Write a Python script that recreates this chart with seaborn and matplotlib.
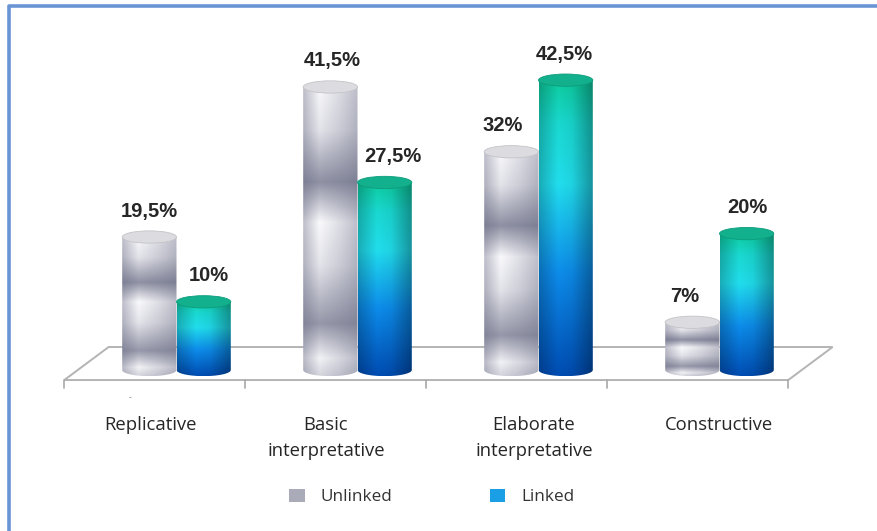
import matplotlib
matplotlib.use('Agg')
import matplotlib.pyplot as plt
import numpy as np
import pandas as pd
import seaborn as sns
from matplotlib.patches import Ellipse, PathPatch, Patch, Polygon
from matplotlib.path import Path
from matplotlib.lines import Line2D

# 数据
categories = ["Replicative", "Basic\ninterpretative", "Elaborate\ninterpretative", "Constructive"]
groups = ["Unlinked", "Linked"]
unlinked = [19.5, 41.5, 32, 7]
linked = [10, 27.5, 42.5, 20]

df = pd.DataFrame({
    'category': categories * 2,
    'value': unlinked + linked,
    'group': [groups[0]] * 4 + [groups[1]] * 4,
})

sns.set_style('white')
plt.rcParams['font.family'] = ['Open Sans', 'DejaVu Sans']

W, H = 877, 531
ppu = 6.82          # 每个百分点的像素
y_lo, y_hi = -1.5, 50
fig = plt.figure(figsize=(W / 100, H / 100), dpi=100)
# 坐标轴:基线 y=370px, 每组间距 181px
bottom_px = 370 + (-y_lo) * ppu
ax = fig.add_axes([86 / W, (H - bottom_px) / H, 724 / W, (y_hi - y_lo) * ppu / H])

sns.barplot(data=df, x='category', y='value', hue='group', hue_order=groups,
            order=categories, width=0.6, dodge=True, legend=False, ax=ax)
ax.axis('off')

ell_h = 1.8  # 圆柱顶面椭圆高度(数据单位)


def gray_img(n=240, m=80):
    s = np.linspace(1, 0, n)[:, None]
    u = np.linspace(0, 1, m)[None, :]
    L = np.interp(s, [0, 0.06, 0.18, 0.38, 0.53, 0.67, 0.85, 1.0],
                  [0.75, 0.95, 0.35, 0.85, 1.0, 0.3, 0.85, 1.0])
    Hh = np.interp(u, [0, 0.3, 0.65, 1], [0.6, 1.0, 0.82, 0.6])
    t = np.clip(L * Hh, 0, 1)[..., None]
    dark = np.array([0.38, 0.39, 0.49])
    light = np.array([0.98, 0.98, 0.99])
    return dark + (light - dark) * t


def blue_img(n=240, m=80):
    s = np.linspace(1, 0, n)
    u = np.linspace(0, 1, m)[None, :, None]
    stops = [0, 0.35, 0.65, 0.85, 1.0]
    cols = np.array([[0.00, 0.30, 0.70], [0.05, 0.55, 0.92], [0.13, 0.87, 0.93],
                     [0.10, 0.85, 0.82], [0.05, 0.80, 0.62]])
    base = np.stack([np.interp(s, stops, cols[:, k]) for k in range(3)], axis=-1)[:, None, :]
    Hh = np.interp(u, [0, 0.35, 0.6, 1], [0.78, 1.0, 0.95, 0.65])
    return np.clip(base * Hh, 0, 1)


styles = {
    'Unlinked': dict(img=gray_img, top='#dcdce0', top_edge='#c4c4c8'),
    'Linked': dict(img=blue_img, top='#12b08c', top_edge='#0e9c7c'),
}

# 地板
fx0, fx1, fdx = -0.62, 3.38, 0.245
fy0, fy1 = -1.47, 3.37
floor = Polygon([(fx0, fy0), (fx1, fy0), (fx1 + fdx, fy1), (fx0 + fdx, fy1)],
                closed=True, facecolor='white', edgecolor='#b4b4b4', lw=1.4,
                zorder=1, clip_on=False)
ax.add_patch(floor)
for i in range(5):
    ax.plot([fx0 + i, fx0 + i], [fy0, fy0 - 1.2], color='#a8a8a8', lw=1.2,
            clip_on=False, zorder=1)

# 圆柱
label_nudge = {'Unlinked': [0, 2, -9, -8], 'Linked': [5, 8, -1, 1]}
for cont, g in zip(ax.containers, groups):
    st = styles[g]
    for j, bar in enumerate(cont):
        x0, w, h = bar.get_x(), bar.get_width(), bar.get_height()
        bar.set_visible(False)
        theta = np.linspace(np.pi, 2 * np.pi, 50)
        xs = x0 + w / 2 + (w / 2) * np.cos(theta)
        ys = (ell_h / 2) * np.sin(theta)
        verts = [(x0, h)] + list(zip(xs, ys)) + [(x0 + w, h), (x0, h)]
        codes = [Path.MOVETO] + [Path.LINETO] * (len(verts) - 2) + [Path.CLOSEPOLY]
        clip = PathPatch(Path(verts, codes), transform=ax.transData,
                         facecolor='none', edgecolor='none')
        im = ax.imshow(st['img'](), extent=[x0, x0 + w, -ell_h / 2, h],
                       aspect='auto', zorder=3, interpolation='bilinear')
        im.set_clip_path(clip)
        ax.add_patch(Ellipse((x0 + w / 2, h), w, ell_h, facecolor=st['top'],
                             edgecolor=st['top_edge'], lw=0.6, zorder=4))
        txt = f"{h:g}%".replace('.', ',')
        ax.annotate(txt, (x0 + w / 2, h), xytext=(label_nudge[g][j], 26),
                    textcoords='offset pixels', ha='center', va='center',
                    fontsize=14.5, fontweight='bold', color='#262626',
                    family=['Liberation Sans', 'DejaVu Sans'], zorder=5)

ax.set_xlim(-0.5, 3.5)
ax.set_ylim(y_lo, y_hi)

# 类别标签
cat_x = [151, 326, 534, 719]
for lab, px in zip(categories, cat_x):
    fig.text(px / W, 1 - 416 / H, lab, ha='center', va='top', fontsize=13.3,
             color='#262626', linespacing=1.6)
fig.text(130 / W, 1 - 398 / H, '-', ha='center', va='center', fontsize=6, color='#555555')

# 图例
handles = [Patch(facecolor='#a9abb8', edgecolor='none'),
           Patch(facecolor='#1a9fe6', edgecolor='none')]
fig.legend(handles, groups, loc='center', bbox_to_anchor=(432 / W, 1 - 497 / H),
           ncol=2, frameon=False, fontsize=12.3, handlelength=0.9, handleheight=0.8,
           handletextpad=0.95, columnspacing=5.7, labelcolor='#333333')

# 外框
fig.add_artist(Line2D([9 / W, 9 / W, 1], [0, 1 - 6 / H, 1 - 6 / H],
                      transform=fig.transFigure, color='#6a95d5', lw=2.6))

fig.savefig('out.png', dpi=100, facecolor='white')
